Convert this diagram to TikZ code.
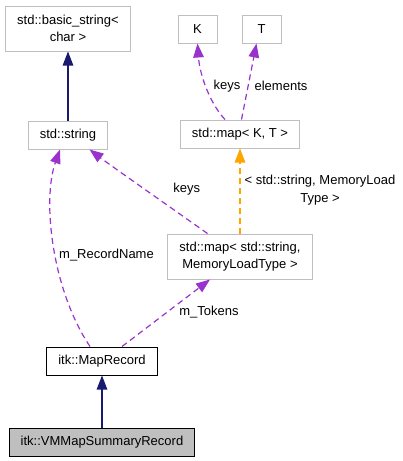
\documentclass[tikz,border=0pt]{standalone}
\usepackage{fontspec}
\setmainfont{Liberation Sans}
\usetikzlibrary{positioning, arrows.meta}
\definecolor{edgepurple}{HTML}{9A32CD}
\definecolor{edgeorange}{HTML}{FFA500}
\definecolor{edgenavy}{HTML}{191970}
\definecolor{boxgray}{HTML}{BFBFBF}

\begin{document}
\begin{tikzpicture}[
  x=1pt, y=-1pt,
  >={Triangle[length=14pt, width=10.5pt]},
  every node/.style={font=\fontsize{13}{16.5}\selectfont},
  box/.style  = {draw=boxgray, line width=1pt, align=center, inner xsep=11.5pt, inner ysep=2pt, minimum height=28pt},
  tall/.style = {minimum height=45pt},
  own/.style  = {draw=black},
  this/.style = {draw=black, fill=boxgray},
  lbl/.style  = {inner sep=1pt, align=center},
  inh/.style  = {->, line width=1.2pt, edgenavy},
  use/.style  = {->, line width=1.2pt, edgepurple, dash pattern=on 6pt off 4pt},
  tmpl/.style = {->, line width=1.4pt, edgeorange, dash pattern=on 6pt off 4pt},
]
  \useasboundingbox (0,0) rectangle (403,461);
  % classes
  \node[box, tall]                     (bstr)   at (68,28.5) {std::basic\_string<\\char >};
  \node[box, below=69pt of bstr]       (str)    {std::string};
  \node[box, minimum width=39pt]       (k)      at (197.5,29) {K};
  \node[box, minimum width=39pt, right=24pt of k] (t) {T};
  \node[box]                           (mapkt)  at (240,134) {std::map< K, T >};
  \node[box, tall, below=85pt of mapkt] (mapmlt) {std::map< std::string,\\MemoryLoadType >};
  \node[box, own]                      (maprec) at (102,361) {itk::MapRecord};
  \node[box, this, below=52pt of maprec] (vmrec) {itk::VMMapSummaryRecord};
  % inheritance
  \draw[inh] (str) -- (bstr);
  \draw[inh] (vmrec) -- (maprec);
  % usage
  \draw[use] ([xshift=-15pt]mapkt.north) .. controls (212,106) and (200,78) .. (k.south);
  \draw[use] ([xshift=1.5pt]mapkt.north) -- ([xshift=-5pt]t.south);
  \draw[tmpl] (mapmlt) -- (mapkt);
  \draw[use] ([xshift=-32.5pt]mapmlt.north) .. controls (160,200) and (110,165) .. ([xshift=21.5pt]str.south);
  \draw[use] ([xshift=-12pt]maprec.north) .. controls (52,290) and (42,200) .. ([xshift=-8pt]str.south);
  \draw[use] ([xshift=20pt]maprec.north) -- ([xshift=-30pt]mapmlt.south);
  % labels
  \node[lbl] (lkeys)  at (227,86)    {keys};
  \node[lbl] (lelem)  at (281,86)    {elements};
  \node[lbl, font=\fontsize{13}{18}\selectfont] (ltmpl) at (320,190) {< std::string, MemoryLoad\\Type >};
  \node[lbl] (lskeys) at (186.7,189) {keys};
  \node[lbl] (lrec)   at (106.5,255) {m\_RecordName};
  \node[lbl] (ltok)   at (209,312)   {m\_Tokens};
\end{tikzpicture}
\end{document}
